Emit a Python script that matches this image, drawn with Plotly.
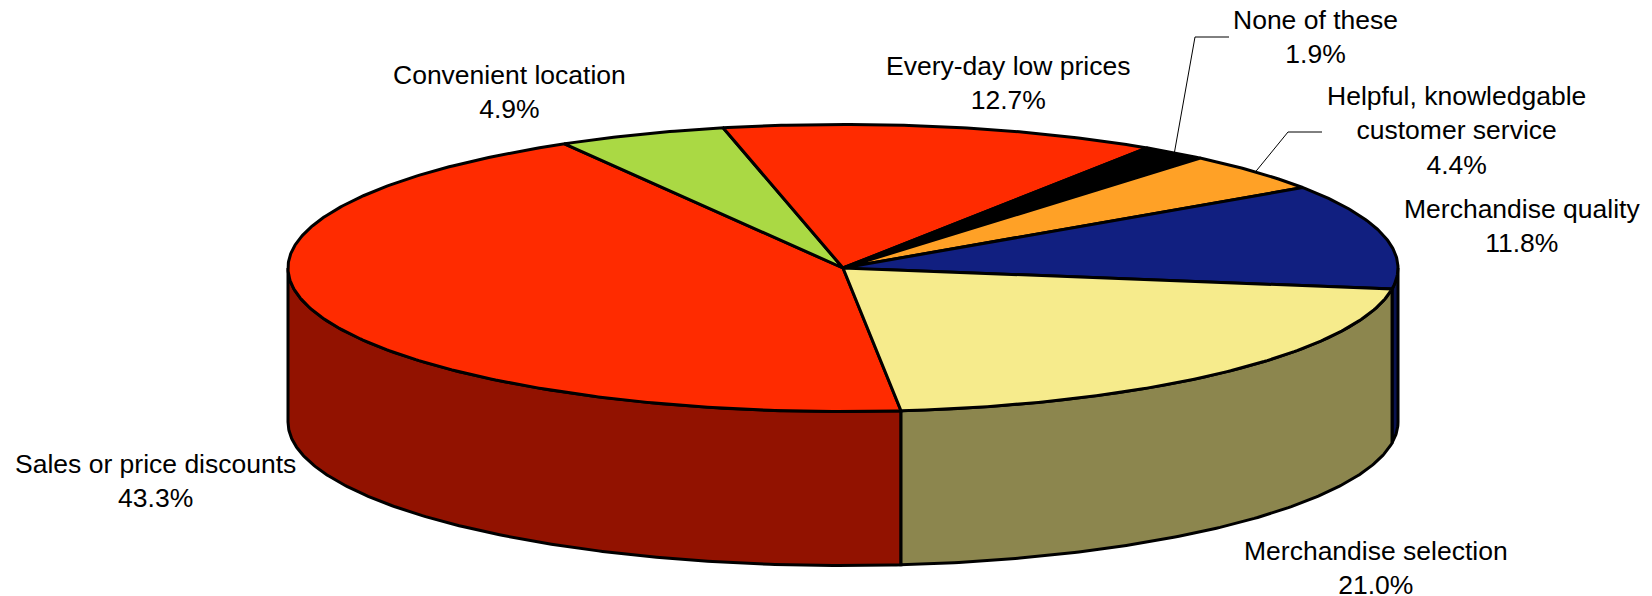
import numpy as np
from plotly import graph_objects as go

labels = [
    "Sales or price discounts",
    "Convenient location",
    "Every-day low prices",
    "None of these",
    "Helpful, knowledgable<br>customer service",
    "Merchandise quality",
    "Merchandise selection",
]
values = [43.3, 4.9, 12.7, 1.9, 4.4, 11.8, 21.0]
top_colors = ["#FF2B00", "#AAD944", "#FF2B00", "#000000", "#FFA126", "#111F80", "#F6EB8C"]
side_colors = ["#921200", "#55701F", "#921200", "#000000", "#8C5A10", "#0A1350", "#8C864E"]

# Where the text goes, in page pixels
label_x = [155, 509, 1008, 1315, 1456, 1522, 1376]
label_y = [481, 92, 83, 37, 130, 226, 568]

# Leader line elbows for the two thin slices
leaders = {3: [(1195, 37), (1229, 37)], 4: [(1288, 132), (1322, 132)]}

# Tilted disc
cx, cy = 843, 268
rx, ry = 555, 143.6
depth = 154
start_angle = 174.0


def rim(angle_deg, drop=0):
    a = np.radians(angle_deg)
    return cx + rx * np.sin(a), cy - ry * np.cos(a) + drop


def arc(a0, a1, drop=0):
    n = max(int(abs(a1 - a0) * 2), 2)
    return rim(np.linspace(a0, a1, n), drop)


edges = start_angle + np.cumsum([0] + values) * 3.6

fig = go.Figure()

# Side walls first, only the part of the rim that faces the viewer (90 to 270 deg)
for i, name in enumerate(labels):
    for shift in (0, 360):
        a0 = max(edges[i], 90 + shift)
        a1 = min(edges[i + 1], 270 + shift)
        if a1 <= a0:
            continue
        tx, ty = arc(a0, a1)
        bx, by = arc(a1, a0, depth)
        fig.add_trace(
            go.Scatter(
                x=np.concatenate([tx, bx, tx[:1]]),
                y=np.concatenate([ty, by, ty[:1]]),
                mode="lines",
                fill="toself",
                fillcolor=side_colors[i],
                line=dict(color="#000", width=3),
                hoverinfo="skip",
                showlegend=False,
            )
        )

# Top of the disc
for i, name in enumerate(labels):
    tx, ty = arc(edges[i], edges[i + 1])
    fig.add_trace(
        go.Scatter(
            x=np.concatenate([[cx], tx, [cx]]),
            y=np.concatenate([[cy], ty, [cy]]),
            mode="lines",
            fill="toself",
            fillcolor=top_colors[i],
            line=dict(color="#000", width=3),
            name=name.replace("<br>", " "),
            text=f"{values[i]:.1f}%",
            hoverinfo="name+text",
            showlegend=False,
        )
    )

for i, elbow in leaders.items():
    sx, sy = rim((edges[i] + edges[i + 1]) / 2)
    fig.add_trace(
        go.Scatter(
            x=[sx] + [p[0] for p in elbow],
            y=[sy] + [p[1] for p in elbow],
            mode="lines",
            line=dict(color="#000", width=1),
            hoverinfo="skip",
            showlegend=False,
        )
    )

for i, name in enumerate(labels):
    fig.add_annotation(
        x=label_x[i],
        y=label_y[i],
        text=f"{name}<br>{values[i]:.1f}%",
        showarrow=False,
        xanchor="center",
        yanchor="middle",
        align="center",
        font=dict(family="Liberation Sans", size=26.5, color="#000"),
    )

fig.update_xaxes(range=[0, 1652], visible=False)
fig.update_yaxes(range=[596, 0], visible=False)
fig.update_layout(
    template="plotly_white",
    width=1652,
    height=596,
    margin=dict(l=0, r=0, t=0, b=0),
    paper_bgcolor="#fff",
    plot_bgcolor="#fff",
)
# The browser's default body margin would push the chart off the page
fig.write_html(
    "out.html",
    config={"displayModeBar": False},
    post_script="document.body.style.margin = '0'; document.body.style.overflow = 'hidden';",
)
